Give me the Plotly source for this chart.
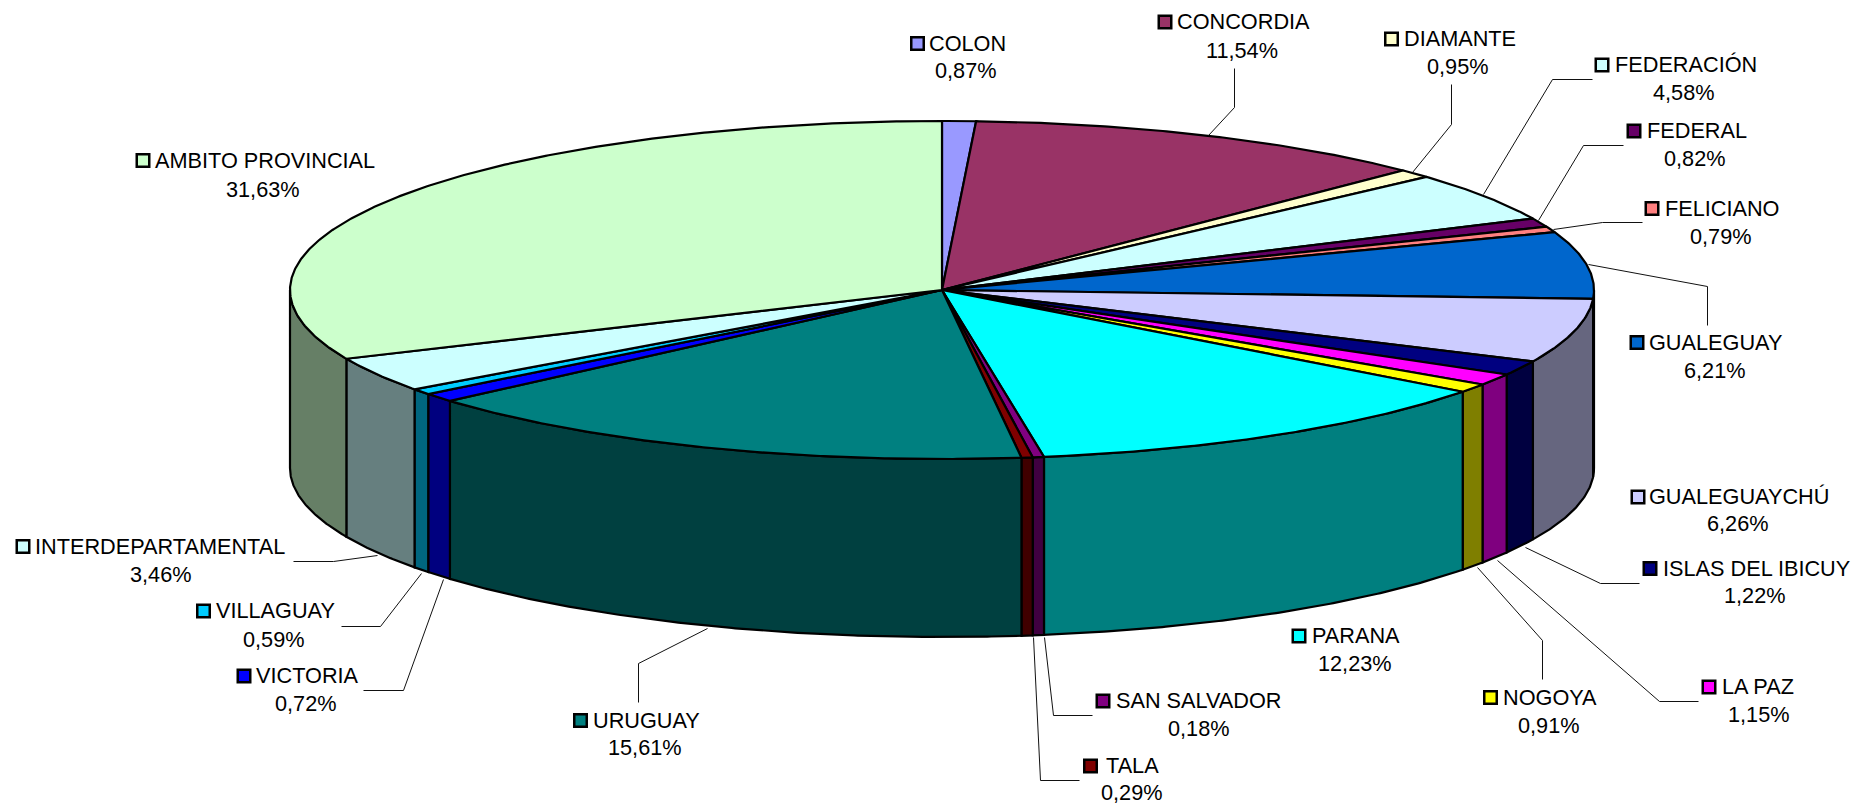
import numpy as np
import plotly.graph_objects as go

categories = ["COLON", "CONCORDIA", "DIAMANTE", "FEDERACIÓN", "FEDERAL", "FELICIANO", "GUALEGUAY",
              "GUALEGUAYCHÚ", "ISLAS DEL IBICUY", "LA PAZ", "NOGOYA", "PARANA", "SAN SALVADOR", "TALA",
              "URUGUAY", "VICTORIA", "VILLAGUAY", "INTERDEPARTAMENTAL", "AMBITO PROVINCIAL"]
values = [0.87, 11.54, 0.95, 4.58, 0.82, 0.79, 6.21, 6.26, 1.22, 1.15, 0.91, 12.23, 0.18, 0.29,
          15.61, 0.72, 0.59, 3.46, 31.63]
colors = ["#9999FF", "#993366", "#FFFFCC", "#CCFFFF", "#660066", "#FF8080", "#0066CC", "#CCCCFF",
          "#000080", "#FF00FF", "#FFFF00", "#00FFFF", "#800080", "#800000", "#008080", "#0000FF",
          "#00CCFF", "#CCFFFF", "#CCFFCC"]

# Layout of the labels: key centre x, text left, text right, name-line y, percent-line y
label_layout = [
    (917.5, 929, 1004, 43.5, 70.5), (1165, 1177, 1307, 22, 50), (1391.5, 1404, 1513, 39, 66),
    (1602, 1615, 1754, 65, 92), (1634, 1647, 1744, 131, 158), (1652, 1665, 1777, 208.5, 236),
    (1637, 1649, 1781, 342.5, 370), (1638, 1649, 1828, 497, 523.5), (1650, 1663, 1848, 568.5, 595),
    (1709, 1722, 1796, 687, 714), (1490.5, 1503, 1596, 697.5, 725), (1299, 1312, 1398, 636, 663),
    (1103, 1116, 1282, 701, 728), (1090.5, 1106, 1159, 766, 792.5), (580.5, 593, 697, 720.5, 747),
    (244, 256, 357, 676, 703), (203.5, 216, 333, 611, 639), (23, 35.5, 286.5, 546.5, 574),
    (143, 155, 372.5, 160.5, 189),
]
leader_lines = [
    [(1234, 68), (1234, 107), (1208, 135)],
    [(1451, 84), (1451, 124), (1412, 172)],
    [(1592, 79), (1552, 79), (1483, 194)],
    [(1623, 145), (1583, 145), (1538, 220)],
    [(1642, 222), (1602, 222), (1553, 229)],
    [(1707, 325), (1707, 286), (1588, 264)],
    [(1639, 583), (1600, 583), (1525, 547)],
    [(1698, 701), (1659, 701), (1497, 560)],
    [(1542, 679), (1542, 640), (1477, 567)],
    [(1092, 715), (1053, 715), (1044, 637)],
    [(1079, 780), (1040, 780), (1033, 637)],
    [(638, 702), (638, 663), (707, 628)],
    [(363, 690), (403, 690), (443, 579)],
    [(341, 626), (380, 626), (421, 573)],
    [(293, 561), (333, 561), (377, 555)],
]

CX, CY, RX, RY, DEPTH = 942.0, 290.0, 652.0, 169.0, 178.0
FONT = "Liberation Sans, Arial, sans-serif"
FS = 21.7


def ex(t):
    return CX + RX * np.sin(np.radians(t))


def ey(t):
    return CY - RY * np.cos(np.radians(t))


def dim(c):
    r, g, b = (int(c[i:i + 2], 16) // 2 for i in (1, 3, 5))
    return f"#{r:02X}{g:02X}{b:02X}"


def poly(xs, ys, fill):
    return go.Scatter(x=list(xs), y=list(ys), mode="lines", fill="toself", fillcolor=fill,
                      line=dict(color="black", width=2.2), hoverinfo="skip", showlegend=False)


# The original chart snaps slice boundaries to whole degrees
edges = np.round(np.concatenate([[0], np.cumsum(values)]) / np.sum(values) * 360)
edges[-1] = 360
fig = go.Figure()

# Side walls (front half only)
for i, c in enumerate(colors):
    a, b = max(edges[i], 90), min(edges[i + 1], 270)
    if b <= a:
        continue
    t = np.linspace(a, b, max(int((b - a) * 3), 2))
    xs = np.concatenate([ex(t), ex(t[::-1]), ex(t[:1])])
    ys = np.concatenate([ey(t), ey(t[::-1]) + DEPTH, ey(t[:1])])
    fig.add_trace(poly(xs, ys, dim(c)))

# Top wedges
for i, c in enumerate(colors):
    t = np.linspace(edges[i], edges[i + 1], max(int((edges[i + 1] - edges[i]) * 3), 3))
    xs = np.concatenate([[CX], ex(t), [CX]])
    ys = np.concatenate([[CY], ey(t), [CY]])
    fig.add_trace(poly(xs, ys, c))

# Leader lines
for pts in leader_lines:
    fig.add_trace(go.Scatter(x=[p[0] + 0.5 for p in pts], y=[p[1] + 0.5 for p in pts], mode="lines",
                             line=dict(color="#111111", width=1), hoverinfo="skip", showlegend=False))

# Legend keys
fig.add_trace(go.Scatter(x=[l[0] for l in label_layout], y=[l[3] for l in label_layout], mode="markers",
                         marker=dict(symbol="square", size=12.5, color=colors, line=dict(color="black", width=2.5)),
                         hoverinfo="skip", showlegend=False))

# Labels
annotations = []
for name, v, l in zip(categories, values, label_layout):
    annotations.append(dict(x=l[1] - 2.2, y=l[3] - 0.1, text=name, xanchor="left", yanchor="middle", showarrow=False,
                            xref="x", yref="y",
                            font=dict(family=FONT, size=FS, color="black")))
    annotations.append(dict(x=(l[1] + l[2]) / 2 - 0.5, y=l[4], text=f"{v:.2f}%".replace(".", ","), xanchor="center",
                            yanchor="middle", showarrow=False, xref="x", yref="y",
                            font=dict(family=FONT, size=FS, color="black")))

fig.update_layout(
    width=1854, height=805, margin=dict(l=0, r=0, t=0, b=0), paper_bgcolor="white", plot_bgcolor="white",
    xaxis=dict(range=[0, 1854], visible=False, fixedrange=True),
    yaxis=dict(range=[805, 0], visible=False, fixedrange=True),
    annotations=annotations, showlegend=False,
)
fig.write_html("out.html", config={"displayModeBar": False},
               post_script="document.body.style.margin='0';document.documentElement.style.overflow='hidden';")
